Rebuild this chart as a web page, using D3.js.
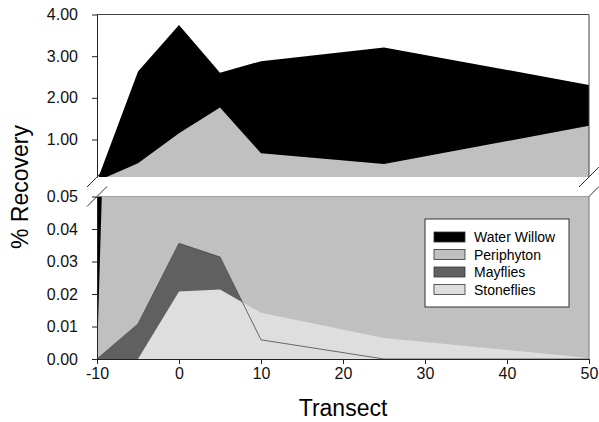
<!DOCTYPE html>
<html>
<head>
<meta charset="utf-8">
<script src="https://cdn.jsdelivr.net/npm/d3@7"></script>
<style>
  body { margin: 0; background: #fff; }
  svg { font-family: "Liberation Sans", Arial, sans-serif; }
</style>
</head>
<body>
<svg id="chart" width="599" height="422"></svg>
<script>
// data
const transect = [-10, -5, 0, 5, 10, 25, 50];
const waterWillow = [0, 2.63, 3.75, 2.60, 2.88, 3.21, 2.31];
const periphyton = [0, 0.43, 1.15, 1.77, 0.67, 0.41, 1.33];
const mayflies = [0, 0.0108, 0.0356, 0.0314, 0.0059, 0, 0];
const stoneflies = [0, 0, 0.0208, 0.0214, 0.0142, 0.0065, 0.0003];

const seriesNames = ["Water Willow", "Periphyton", "Mayflies", "Stoneflies"];
const seriesColors = ["#000000", "#c0c0c0", "#606060", "#dedede"];
const xTicks = [-10, 0, 10, 20, 30, 40, 50];
const topTicks = [1, 2, 3, 4];
const bottomTicks = [0, 0.01, 0.02, 0.03, 0.04, 0.05];

const svg = d3.select("#chart");

const x = d3.scaleLinear().domain([-10, 50]).range([97, 589]);
const yTop = d3.scaleLinear().domain([0.1, 4]).range([177, 14.5]);
const yBot = d3.scaleLinear().domain([0, 0.05]).range([359, 196.5]);

const allSeries = [waterWillow, periphyton, mayflies, stoneflies];

// break marks (drawn first so fills hide the inner halves)
const breaks = svg.append("g").attr("stroke", "#333").attr("stroke-width", 1);
[x(-10), x(50)].forEach(bx => {
  [yTop.range()[0], yBot.range()[1]].forEach(by => {
    breaks.append("line")
      .attr("x1", bx - 10).attr("y1", by + 10)
      .attr("x2", bx + 10).attr("y2", by - 10);
  });
});

function drawPanel(name, y) {
  const [y0, y1] = y.range();
  svg.append("clipPath").attr("id", "clip-" + name)
    .append("rect")
    .attr("x", x(-10)).attr("y", y1)
    .attr("width", x(50) - x(-10)).attr("height", y0 - y1);

  const g = svg.append("g").attr("clip-path", `url(#clip-${name})`);

  allSeries.forEach((vals, i) => {
    const area = d3.area()
      .x((d, j) => x(transect[j]))
      .y0(y0 + 5)
      .y1(d => y(d));
    g.append("path")
      .datum(vals)
      .attr("d", area)
      .attr("fill", seriesColors[i]);
  });

  // mayfly outline shows over the stonefly fill
  g.append("path")
    .datum(mayflies)
    .attr("d", d3.line().x((d, j) => x(transect[j])).y(d => y(d)))
    .attr("fill", "none")
    .attr("stroke", "#4a4a4a")
    .attr("stroke-width", 0.8);
}

drawPanel("top", yTop);
drawPanel("bot", yBot);

// frame lines
svg.append("path")
  .attr("d", `M${x(-10)},${yTop.range()[1]}H${x(50)}V${yTop.range()[0]}`)
  .attr("fill", "none").attr("stroke", "#444").attr("stroke-width", 1);
svg.append("line")
  .attr("x1", x(50)).attr("x2", x(50))
  .attr("y1", yBot.range()[1]).attr("y2", yBot.range()[0])
  .attr("stroke", "#777").attr("stroke-width", 1);

// axes
const fmt = d3.format(".2f");
svg.append("g")
  .attr("class", "axis")
  .attr("transform", `translate(${x(-10)},0)`)
  .call(d3.axisLeft(yTop).tickValues(topTicks).tickFormat(fmt).tickSizeInner(5).tickSizeOuter(0).tickPadding(14));
svg.append("g")
  .attr("class", "axis")
  .attr("transform", `translate(${x(-10)},0)`)
  .call(d3.axisLeft(yBot).tickValues(bottomTicks).tickFormat(fmt).tickSizeInner(5).tickSizeOuter(0).tickPadding(14));
svg.append("g")
  .attr("class", "axis")
  .attr("transform", `translate(0,${yBot.range()[0]})`)
  .call(d3.axisBottom(x).tickValues(xTicks).tickFormat(d => String(d))
    .tickSizeInner(5).tickSizeOuter(0).tickPadding(4));

svg.selectAll(".axis text")
  .attr("font-size", 16)
  .attr("font-family", "Liberation Sans, Arial, sans-serif")
  .attr("fill", "#111");
svg.selectAll(".axis line, .axis path").attr("stroke", "#222");

// axis titles
svg.append("text")
  .attr("transform", `translate(28,187) rotate(-90)`)
  .attr("text-anchor", "middle")
  .attr("font-size", 23)
  .text("% Recovery");
svg.append("text")
  .attr("x", (x(-10) + x(50)) / 2)
  .attr("y", 416)
  .attr("text-anchor", "middle")
  .attr("font-size", 23)
  .text("Transect");

// legend
const legend = svg.append("g").attr("transform", "translate(425,219)");
legend.append("rect")
  .attr("width", 144).attr("height", 88)
  .attr("fill", "#fff").attr("stroke", "#333").attr("stroke-width", 1);
seriesNames.forEach((name, i) => {
  const row = legend.append("g").attr("transform", `translate(9,${13 + i * 17.5})`);
  row.append("rect")
    .attr("width", 31).attr("height", 10)
    .attr("fill", seriesColors[i]).attr("stroke", "#333").attr("stroke-width", 0.8);
  row.append("text")
    .attr("x", 40).attr("y", 5)
    .attr("dy", "0.36em")
    .attr("font-size", 14)
    .text(name);
});
</script>
</body>
</html>
